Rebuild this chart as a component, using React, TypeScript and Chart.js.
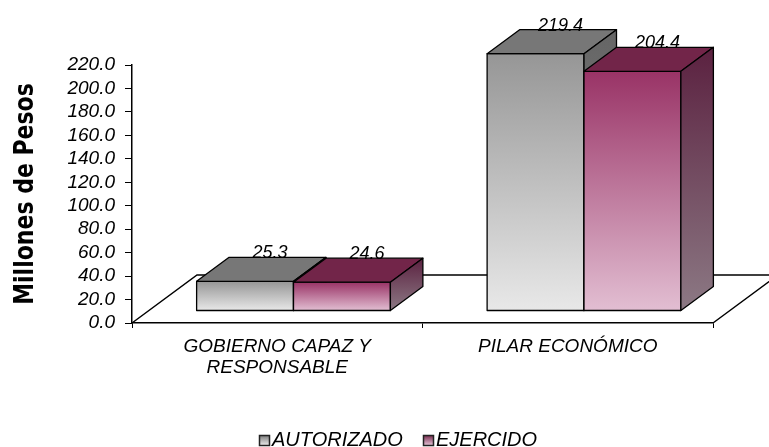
import React, { useEffect, useRef } from 'react';
import { Chart, registerables } from 'chart.js';

Chart.register(...registerables);

// ---- data ----
const categories: string[][] = [['GOBIERNO CAPAZ Y', 'RESPONSABLE'], ['PILAR ECONÓMICO']];
const seriesNames: string[] = ['AUTORIZADO', 'EJERCIDO'];
const autorizado: number[] = [25.3, 219.4];
const ejercido: number[] = [24.6, 204.4];
const yMin = 0;
const yMax = 220;
const yStep = 20;
const yTitle = 'Millones de Pesos';

// ---- styles ----
const FONT = '"Liberation Sans", Arial, sans-serif';
const DX = 65; // floor depth (x)
const DY = -48; // floor depth (y)

const palettes = [
  { frontTop: '#969696', frontBot: '#e8e8e8', top: '#777777', sideTop: '#656565', sideBot: '#8a8a8a' },
  { frontTop: '#993366', frontBot: '#e2bed2', top: '#722549', sideTop: '#5b2140', sideBot: '#8c7984' },
];

const threeD = {
  id: 'threeD',
  beforeDatasetsDraw(chart: any) {
    const { ctx, chartArea: ca } = chart;
    ctx.save();
    ctx.strokeStyle = '#000';
    ctx.lineWidth = 1.5;
    ctx.beginPath();
    ctx.moveTo(ca.left, ca.bottom);
    ctx.lineTo(ca.left + DX, ca.bottom + DY);
    ctx.lineTo(ca.right + DX, ca.bottom + DY);
    ctx.lineTo(ca.right, ca.bottom);
    ctx.stroke();
    ctx.restore();
  },
  afterDatasetsDraw(chart: any) {
    const { ctx } = chart;
    const sx = DX / 4, sy = DY / 4, bx = DX / 2, by = DY / 2;
    const nCat = chart.data.labels.length;
    const labels: { x: number; y: number; text: string }[] = [];
    ctx.save();
    ctx.lineJoin = 'round';
    for (let j = 0; j < nCat; j++) {
      chart.data.datasets.forEach((ds: any, i: number) => {
        const el = chart.getDatasetMeta(i).data[j];
        const p = el.getProps(['x', 'y', 'base', 'width'], true);
        const pal = palettes[i];
        const l = p.x - p.width / 2 + sx;
        const r = p.x + p.width / 2 + sx;
        const t = p.y + sy;
        const b = p.base + sy;
        ctx.strokeStyle = '#000';
        ctx.lineWidth = 1.3;
        // front
        const g = ctx.createLinearGradient(0, t, 0, b);
        g.addColorStop(0, pal.frontTop);
        g.addColorStop(1, pal.frontBot);
        ctx.fillStyle = g;
        ctx.beginPath();
        ctx.rect(l, t, r - l, b - t);
        ctx.fill();
        ctx.stroke();
        // top
        ctx.fillStyle = pal.top;
        ctx.beginPath();
        ctx.moveTo(l, t);
        ctx.lineTo(l + bx, t + by);
        ctx.lineTo(r + bx, t + by);
        ctx.lineTo(r, t);
        ctx.closePath();
        ctx.fill();
        ctx.stroke();
        // side
        const gs = ctx.createLinearGradient(0, t + by, 0, b);
        gs.addColorStop(0, pal.sideTop);
        gs.addColorStop(1, pal.sideBot);
        ctx.fillStyle = gs;
        ctx.beginPath();
        ctx.moveTo(r, t);
        ctx.lineTo(r + bx, t + by);
        ctx.lineTo(r + bx, b + by);
        ctx.lineTo(r, b);
        ctx.closePath();
        ctx.fill();
        ctx.stroke();
        labels.push({ x: (l + r) / 2 + 25, y: t + by + 1, text: Number(ds.data[j]).toFixed(1) });
      });
    }
    ctx.fillStyle = '#000';
    ctx.font = `italic 18px ${FONT}`;
    ctx.textAlign = 'center';
    ctx.textBaseline = 'alphabetic';
    labels.forEach((lb) => ctx.fillText(lb.text, lb.x, lb.y));
    ctx.restore();
  },
  afterDraw(chart: any) {
    const { ctx } = chart;
    // y axis title
    ctx.save();
    ctx.translate(33, 194);
    ctx.rotate(-Math.PI / 2);
    ctx.scale(1, 1.2);
    ctx.fillStyle = '#000';
    ctx.font = `bold 22px "DejaVu Sans", sans-serif`;
    ctx.textAlign = 'center';
    ctx.textBaseline = 'alphabetic';
    ctx.fillText(yTitle, 0, 0);
    ctx.restore();
    // legend
    ctx.save();
    ctx.font = `italic 20px ${FONT}`;
    ctx.textBaseline = 'alphabetic';
    ctx.textAlign = 'left';
    const starts = [259, 423];
    seriesNames.forEach((name, i) => {
      const pal = palettes[i];
      const x0 = starts[i];
      const g = ctx.createLinearGradient(0, 435, 0, 445);
      g.addColorStop(0, pal.top);
      g.addColorStop(1, pal.frontBot);
      ctx.fillStyle = g;
      ctx.fillRect(x0, 435, 10, 10);
      ctx.strokeStyle = '#222';
      ctx.lineWidth = 1.5;
      ctx.strokeRect(x0 + 0.5, 435.5, 10, 10);
      ctx.fillStyle = '#000';
      ctx.fillText(name, x0 + 13, 445.5);
    });
    ctx.restore();
  },
};

export default function App() {
  const ref = useRef<HTMLCanvasElement>(null);
  useEffect(() => {
    const chart = new Chart(ref.current as HTMLCanvasElement, {
      type: 'bar',
      data: {
        labels: categories,
        datasets: [
          { label: seriesNames[0], data: autorizado, backgroundColor: 'rgba(0,0,0,0)', borderWidth: 0 },
          { label: seriesNames[1], data: ejercido, backgroundColor: 'rgba(0,0,0,0)', borderWidth: 0 },
        ],
      },
      options: {
        animation: false,
        responsive: false,
        layout: { padding: { top: 65, right: 56, left: 0, bottom: 0 } },
        datasets: { bar: { barPercentage: 1, categoryPercentage: 0.667 } },
        plugins: { legend: { display: false }, tooltip: { enabled: false } },
        scales: {
          x: {
            afterFit: (s: any) => { s.height = 124; },
            grid: { display: true, drawOnChartArea: false, drawTicks: true, tickLength: 5, color: '#000', lineWidth: 1 },
            border: { display: true, color: '#000', width: 1.5 },
            ticks: { color: '#000', font: { family: FONT, size: 19, style: 'italic', lineHeight: 1.1 }, padding: 8, maxRotation: 0, autoSkip: false },
          },
          y: {
            min: yMin,
            max: yMax,
            afterFit: (s: any) => { s.width = 132; },
            grid: { display: true, drawOnChartArea: false, drawTicks: true, tickLength: 7, color: '#000', lineWidth: 1 },
            border: { display: true, color: '#000', width: 1.5 },
            ticks: {
              stepSize: yStep,
              autoSkip: false,
              color: '#000',
              padding: 10,
              font: { family: FONT, size: 19, style: 'italic' },
              callback: (v: any) => Number(v).toFixed(1),
            },
          },
        },
      },
      plugins: [threeD],
    } as any);
    return () => chart.destroy();
  }, []);
  return (
    <div style={{ position: 'fixed', left: 0, top: 0, width: 769, height: 447, background: '#fff' }}>
      <canvas ref={ref} width={769} height={447} style={{ display: 'block' }} />
    </div>
  );
}
